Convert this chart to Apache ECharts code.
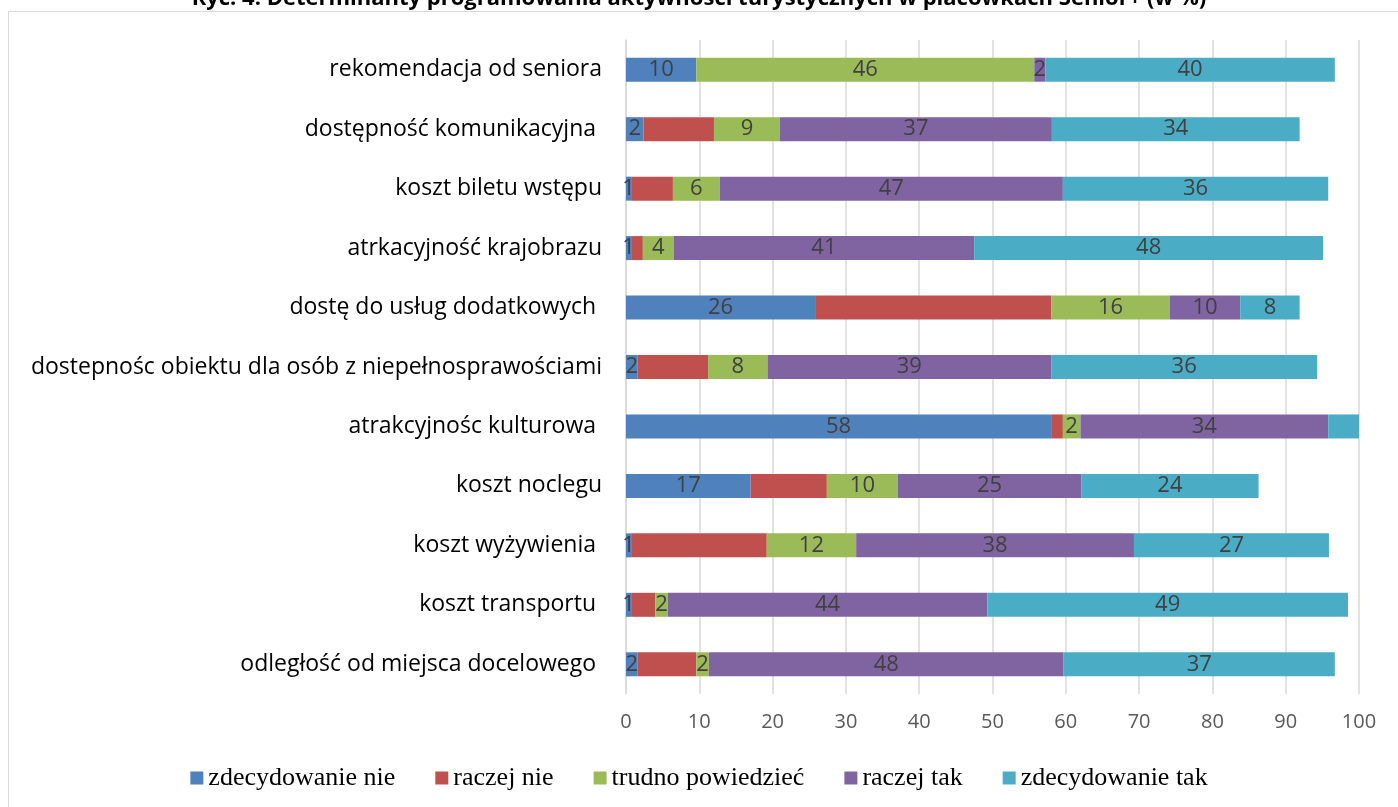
<!DOCTYPE html>
<html>
<head>
<meta charset="utf-8">
<script src="https://cdn.jsdelivr.net/npm/echarts@6/dist/echarts.min.js"></script>
<style>
html,body{margin:0;padding:0;background:#fff;}
#main{width:1398px;height:807px;}
</style>
</head>
<body>
<div id="main"></div>
<script>
const titleText = "Ryc. 4. Determinanty programowania aktywności turystycznych w placówkach Senior+ (w %)";
const categories = [
  "rekomendacja od seniora",
  "dostępność komunikacyjna ",
  "koszt biletu wstępu",
  "atrkacyjność krajobrazu",
  "dostę do usług dodatkowych ",
  "dostepnośc obiektu dla osób z niepełnosprawościami",
  "atrakcyjnośc kulturowa ",
  "koszt noclegu",
  "koszt wyżywienia ",
  "koszt transportu ",
  "odległość od miejsca docelowego "
];
const seriesNames = ["zdecydowanie nie", "raczej nie", "trudno powiedzieć", "raczej tak", "zdecydowanie tak"];
const zdecydowanieNie = [9.6, 2.4, 0.7, 0.7, 25.8, 1.6, 58.0, 17.0, 0.7, 0.7, 1.6];
const raczejNie      = [0, 9.6, 5.7, 1.6, 32.2, 9.6, 1.6, 10.4, 18.5, 3.3, 8.0];
const trudnoPowiedziec = [46.1, 9.0, 6.4, 4.2, 16.2, 8.1, 2.4, 9.7, 12.2, 1.7, 1.7];
const raczejTak      = [1.5, 37.1, 46.8, 41.0, 9.6, 38.7, 33.8, 25.0, 37.9, 43.6, 48.4];
const zdecydowanieTak = [39.5, 33.8, 36.2, 47.6, 8.1, 36.3, 4.4, 24.2, 26.6, 49.2, 37.0];
const xTicks = [0, 10, 20, 30, 40, 50, 60, 70, 80, 90, 100];
// labels not shown in the original
const unlabeledCyan = [6];

const colors = ["#4F81BD", "#C0504D", "#9BBB59", "#8064A2", "#4BACC6"];
const allData = [zdecydowanieNie, raczejNie, trudnoPowiedziec, raczejTak, zdecydowanieTak];

const chart = echarts.init(document.getElementById('main'));
const labelFont = "'Open Sans', sans-serif";

const series = allData.map((arr, si) => ({
  name: seriesNames[si],
  type: 'bar',
  stack: 'total',
  barWidth: 24,
  itemStyle: { color: colors[si] },
  label: {
    show: si !== 1,
    position: 'inside',
    color: '#404040',
    fontSize: 22,
    fontFamily: labelFont,
    formatter: p => Math.round(p.value)
  },
  data: arr.map((v, i) => (si === 4 && unlabeledCyan.includes(i)) ? { value: v, label: { show: false } } : v)
}));

chart.setOption({
  animation: false,
  title: {
    text: titleText,
    left: 'center',
    top: -17,
    textStyle: { fontFamily: "'Open Sans', sans-serif", fontWeight: 'bold', fontSize: 22, color: '#000' }
  },
  graphic: [{
    type: 'rect',
    shape: { x: 8.5, y: 11.5, width: 1400, height: 800 },
    style: { fill: 'none', stroke: '#d9d9d9', lineWidth: 1 },
    silent: true,
    z: -1
  }],
  grid: { left: 626, right: 39, top: 40, bottom: 113 },
  xAxis: {
    type: 'value',
    min: 0,
    max: 100,
    interval: 10,
    axisLine: { show: false },
    axisTick: { show: false },
    splitLine: { show: true, lineStyle: { color: '#d9d9d9', width: 1.5 } },
    axisLabel: {
      margin: 18,
      color: '#595959',
      fontSize: 20,
      fontFamily: labelFont,
      formatter: v => xTicks.includes(v) ? String(v) : ''
    }
  },
  yAxis: {
    type: 'category',
    inverse: true,
    data: categories,
    axisLine: { show: true, lineStyle: { color: '#d9d9d9', width: 1.5 } },
    axisTick: { show: false },
    axisLabel: {
      margin: 24,
      color: '#000',
      fontSize: 23,
      fontFamily: labelFont
    }
  },
  legend: {
    bottom: 11,
    left: 'center',
    icon: 'rect',
    itemWidth: 13,
    itemHeight: 13,
    itemGap: 40,
    textStyle: { fontFamily: "'Liberation Serif', serif", fontSize: 26, color: '#000', padding: [0, 0, 0, 0] },
    data: seriesNames
  },
  series: series
});
</script>
</body>
</html>
